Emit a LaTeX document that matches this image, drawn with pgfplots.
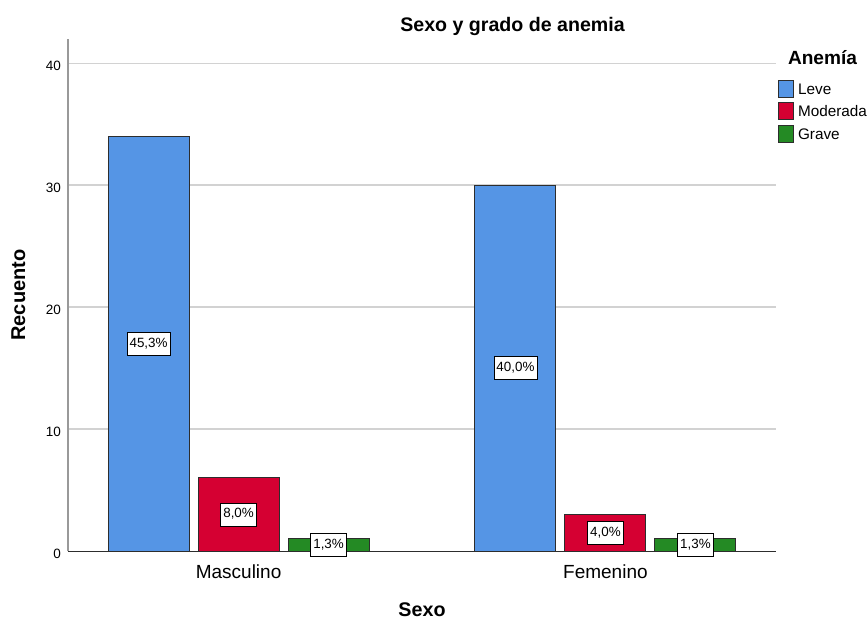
\documentclass[border=0pt]{standalone}
\usepackage{fontspec}
\setmainfont{Liberation Sans}
\usepackage{pgfplots}
\pgfplotsset{compat=1.18}

\definecolor{leve}{RGB}{85,149,229}
\definecolor{moderada}{RGB}{213,0,50}
\definecolor{grave}{RGB}{36,138,36}
\definecolor{gridc}{RGB}{210,210,210}
\definecolor{edgec}{RGB}{45,45,45}

\begin{document}
\begin{tikzpicture}
\useasboundingbox (-68pt,-68pt) rectangle (800pt,551pt);
\begin{axis}[
  at={(0pt,0pt)}, anchor=south west,
  scale only axis, width=708pt, height=512pt,
  xmin=-0.465, xmax=1.465, ymin=0, ymax=42,
  axis x line*=bottom, axis y line*=left,
  x axis line style={draw=edgec, line width=0.9pt, -},
  y axis line style={draw=black!40, line width=1.2pt, -},
  xtick={0,1}, xticklabels={Masculino,Femenino},
  ytick={10,20,30,40},
  extra y ticks={0}, extra y tick style={grid=none},
  major tick length=0pt,
  ymajorgrids, grid style={draw=gridc, line width=1.6pt},
  /pgf/number format/assume math mode=true,
  xticklabel style={font=\fontsize{19}{22}\selectfont, anchor=base, inner sep=0pt, yshift=-27.3pt},
  yticklabel style={font=\fontsize{13.5}{16}\selectfont, anchor=east, inner sep=0pt, xshift=-7pt, yshift=-2.5pt},
  title={Sexo y grado de anemia},
  every axis title shift=0pt,
  title style={font=\bfseries\fontsize{19.6}{22}\selectfont, at={(axis description cs:0.6278,1.0143)}, anchor=base, yshift=0pt, inner sep=0pt},
  xlabel={Sexo},
  xlabel style={font=\bfseries\fontsize{19.7}{22}\selectfont, at={(axis description cs:0.5,-0.1275)}, anchor=base},
  ylabel={Recuento},
  ylabel style={font=\bfseries\fontsize{20}{22}\selectfont, at={(axis description cs:-0.0607,0.5)}, rotate=0, anchor=base},
  every node near coord/.append style={anchor=center, yshift=-\rawy*6.0952pt,
    font=\fontsize{13.4}{16}\selectfont, fill=white, draw=black, line width=0.8pt,
    inner xsep=2.5pt, inner ysep=5pt, text height=10pt, text depth=3pt},
  legend image code/.code={\draw[#1, line width=0.9pt] (0pt,-8.5pt) rectangle (15pt,8.5pt);},
  legend cell align=left,
  legend style={at={(axis description cs:1.0028,0.92)}, anchor=north west,
    draw=none, fill=none, inner sep=0pt, row sep=4.3pt,
    font=\fontsize{15.3}{18}\selectfont,
    nodes={inner xsep=4pt, inner ysep=0pt, text height=14pt, text depth=3pt}},
]
\addlegendimage{fill=leve, draw=edgec}
\addlegendentry{Leve}
\addlegendimage{fill=moderada, draw=edgec}
\addlegendentry{Moderada}
\addlegendimage{fill=grave, draw=edgec}
\addlegendentry{Grave}

\addplot[ybar, bar width=81pt, bar shift=-90pt, fill=leve, draw=edgec, line width=0.9pt, forget plot,
  nodes near coords, point meta=explicit symbolic, visualization depends on={rawy\as\rawy},
  nodes near coords style={xshift=-90pt}]
  coordinates {(0,34) [45,3\%] (1,30) [40,0\%]};
\addplot[ybar, bar width=81pt, bar shift=0pt, fill=moderada, draw=edgec, line width=0.9pt, forget plot,
  nodes near coords, point meta=explicit symbolic, visualization depends on={rawy\as\rawy}]
  coordinates {(0,6) [8,0\%] (1,3) [4,0\%]};
\addplot[ybar, bar width=81pt, bar shift=90pt, fill=grave, draw=edgec, line width=0.9pt, forget plot,
  nodes near coords, point meta=explicit symbolic, visualization depends on={rawy\as\rawy},
  nodes near coords style={xshift=90pt}]
  coordinates {(0,1) [1,3\%] (1,1) [1,3\%]};
\end{axis}
\node[font=\bfseries\fontsize{19.1}{22}\selectfont, anchor=base, inner sep=0pt] at (754.5pt,486pt) {Anemía};
\end{tikzpicture}
\end{document}
